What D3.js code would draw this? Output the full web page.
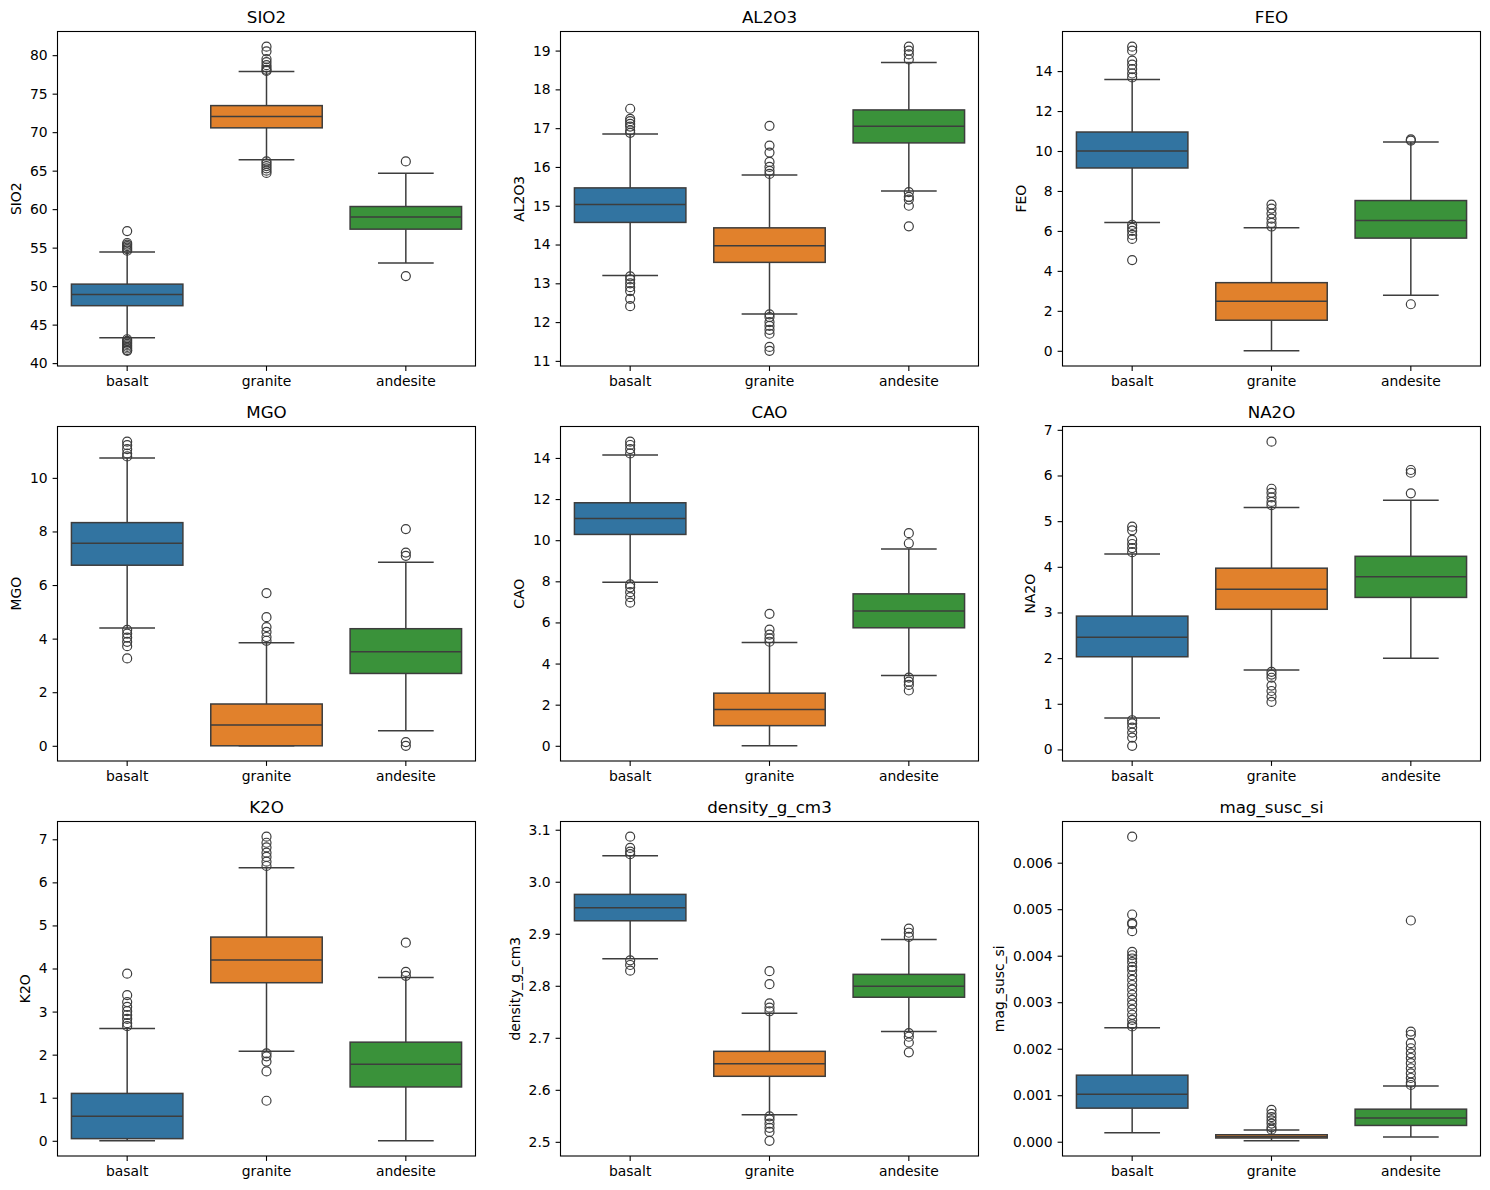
<!DOCTYPE html>
<html>
<head>
<meta charset="utf-8">
<script src="https://cdn.jsdelivr.net/npm/d3@7"></script>
<style>
  body { margin: 0; background: #ffffff; }
  svg { display: block; font-family: "DejaVu Sans", sans-serif; }
</style>
</head>
<body>
<svg id="chart" width="1490" height="1190"></svg>
<script>
const categories = ["basalt", "granite", "andesite"];
const colors = ["#3274a1", "#e1812c", "#3a923a"];

// box stats per category: [whisker low, q1, median, q3, whisker high]
const sio2Box = [[43.3, 47.46, 48.92, 50.26, 54.44], [66.4, 70.56, 72.03, 73.45, 77.89], [53.0, 57.4, 58.97, 60.34, 64.65]];
const sio2Out = [
  [57.15, 55.6, 55.4, 55.2, 55.0, 54.8, 54.6, 43.1, 42.9, 42.7, 42.5, 42.3, 42.1, 41.9, 41.7, 41.6],
  [81.1, 80.5, 79.5, 79.1, 78.7, 78.4, 78.1, 77.95, 66.2, 65.9, 65.6, 65.3, 65.0, 64.7],
  [66.2, 51.3]
];
const sio2Ticks = [40, 45, 50, 55, 60, 65, 70, 75, 80];

const al2o3Box = [[13.2, 14.57, 15.03, 15.46, 16.85], [12.21, 13.54, 13.97, 14.43, 15.79], [15.38, 16.62, 17.05, 17.47, 18.69]];
const al2o3Out = [
  [17.5, 17.24, 17.18, 17.11, 17.04, 16.94, 16.88, 13.18, 13.1, 13.0, 12.9, 12.8, 12.6, 12.41],
  [17.06, 16.55, 16.37, 16.13, 16.0, 15.9, 15.82, 12.2, 12.13, 12.0, 11.9, 11.8, 11.7, 11.36, 11.26],
  [19.1, 19.0, 18.9, 18.77, 15.35, 15.23, 15.16, 15.0, 14.47]
];
const al2o3Ticks = [11, 12, 13, 14, 15, 16, 17, 18, 19];

const feoBox = [[6.42, 9.15, 10.0, 10.95, 13.58], [0, 1.53, 2.48, 3.41, 6.16], [2.78, 5.64, 6.52, 7.52, 10.45]];
const feoOut = [
  [15.22, 15.02, 14.52, 14.32, 14.1, 13.88, 13.68, 6.3, 6.15, 6.0, 5.8, 5.6, 4.54],
  [7.32, 7.12, 6.87, 6.62, 6.4, 6.22],
  [10.58, 10.52, 2.33]
];
const feoTicks = [0, 2, 4, 6, 8, 10, 12, 14];

const mgoBox = [[4.4, 6.74, 7.56, 8.33, 10.74], [0, 0, 0.78, 1.56, 3.85], [0.56, 2.7, 3.51, 4.37, 6.85]];
const mgoOut = [
  [11.35, 11.22, 11.07, 10.91, 10.8, 4.33, 4.19, 4.04, 3.88, 3.72, 3.26],
  [5.7, 4.8, 4.43, 4.25, 4.06, 3.92],
  [8.09, 7.21, 7.09, 0.14, 0.0]
];
const mgoTicks = [0, 2, 4, 6, 8, 10];

const caoBox = [[7.95, 10.28, 11.05, 11.82, 14.14], [0, 0.98, 1.77, 2.56, 5.02], [3.42, 5.74, 6.56, 7.39, 9.57]];
const caoOut = [
  [14.79, 14.63, 14.43, 14.22, 7.85, 7.71, 7.47, 7.23, 6.96],
  [6.42, 5.65, 5.41, 5.22, 5.06],
  [10.34, 9.85, 3.32, 3.12, 2.96, 2.69]
];
const caoTicks = [0, 2, 4, 6, 8, 10, 12, 14];

const na2oBox = [[0.69, 2.03, 2.46, 2.92, 4.28], [1.74, 3.07, 3.51, 3.97, 5.3], [2.0, 3.33, 3.78, 4.23, 5.46]];
const na2oOut = [
  [4.88, 4.8, 4.59, 4.5, 4.41, 4.32, 0.64, 0.57, 0.48, 0.37, 0.26, 0.08],
  [6.74, 5.71, 5.62, 5.52, 5.42, 5.35, 1.7, 1.64, 1.57, 1.4, 1.28, 1.16, 1.04],
  [6.12, 6.06, 5.61]
];
const na2oTicks = [0, 1, 2, 3, 4, 5, 6, 7];

const k2oBox = [[0, 0.05, 0.57, 1.1, 2.61], [2.08, 3.67, 4.2, 4.73, 6.34], [0, 1.25, 1.78, 2.29, 3.79]];
const k2oOut = [
  [3.88, 3.38, 3.22, 3.11, 3.01, 2.92, 2.83, 2.73, 2.66],
  [7.06, 6.92, 6.81, 6.69, 6.59, 6.48, 6.38, 2.03, 1.96, 1.84, 1.61, 0.93],
  [4.6, 3.92, 3.83]
];
const k2oTicks = [0, 1, 2, 3, 4, 5, 6, 7];

const densityBox = [[2.852, 2.925, 2.950, 2.9757, 3.0502], [2.552, 2.626, 2.650, 2.674, 2.747], [2.712, 2.778, 2.799, 2.822, 2.889]];
const densityOut = [
  [3.0866, 3.065, 3.058, 3.053, 2.849, 2.84, 2.829],
  [2.828, 2.803, 2.766, 2.758, 2.751, 2.549, 2.543, 2.535, 2.527, 2.519, 2.502],
  [2.910, 2.902, 2.894, 2.709, 2.702, 2.691, 2.672]
];
const densityTicks = [2.5, 2.6, 2.7, 2.8, 2.9, 3.0, 3.1];

const magBox = [[0.000193, 0.000722, 0.001023, 0.001431, 0.002453], [0.00002, 0.00008, 0.000107, 0.00015, 0.00025], [0.0001, 0.00035, 0.000508, 0.0007, 0.0012]];
const magOut = [
  [0.006559, 0.004886, 0.004707, 0.00468, 0.004528, 0.004084, 0.00401, 0.00394, 0.00386, 0.00376, 0.00369,
   0.00358, 0.00348, 0.00337, 0.00327, 0.00316, 0.00305, 0.00295, 0.00284, 0.00273, 0.00262, 0.00253, 0.00248],
  [0.000687, 0.0006, 0.00053, 0.00046, 0.00039, 0.00031, 0.00026],
  [0.004757, 0.002368, 0.0023, 0.00212, 0.00201, 0.0019, 0.0018, 0.00169, 0.00158, 0.00147, 0.00137, 0.00127, 0.00122]
];
const magTicks = [0, 0.001, 0.002, 0.003, 0.004, 0.005, 0.006];

const panels = [
  { title: "SIO2", box: sio2Box, out: sio2Out, ticks: sio2Ticks, fmt: d3.format("d") },
  { title: "AL2O3", box: al2o3Box, out: al2o3Out, ticks: al2o3Ticks, fmt: d3.format("d") },
  { title: "FEO", box: feoBox, out: feoOut, ticks: feoTicks, fmt: d3.format("d") },
  { title: "MGO", box: mgoBox, out: mgoOut, ticks: mgoTicks, fmt: d3.format("d") },
  { title: "CAO", box: caoBox, out: caoOut, ticks: caoTicks, fmt: d3.format("d") },
  { title: "NA2O", box: na2oBox, out: na2oOut, ticks: na2oTicks, fmt: d3.format("d") },
  { title: "K2O", box: k2oBox, out: k2oOut, ticks: k2oTicks, fmt: d3.format("d") },
  { title: "density_g_cm3", box: densityBox, out: densityOut, ticks: densityTicks, fmt: d3.format(".1f") },
  { title: "mag_susc_si", box: magBox, out: magOut, ticks: magTicks, fmt: d3.format(".3f") }
];

const colLeft = [57.5, 560.5, 1062.5];
const colRight = [475.5, 978.5, 1480.5];
const rowTop = [31.5, 426.5, 821.5];
const rowBottom = [366, 761, 1156];

const lineColor = "#3d3d3d";
const tickLen = 4.9, tickPad = 4.9, fontSize = 13.9;

const svg = d3.select("#chart");

panels.forEach((p, i) => {
  const col = i % 3, row = Math.floor(i / 3);
  const left = colLeft[col], right = colRight[col];
  const top = rowTop[row], bottom = rowBottom[row];

  const all = p.box.flat().concat(p.out.flat());
  const [mn, mx] = d3.extent(all);
  const pad = (mx - mn) * 0.05;

  const x = d3.scaleBand().domain(categories).range([left, right]).paddingInner(0).paddingOuter(0);
  const y = d3.scaleLinear().domain([mn - pad, mx + pad]).range([bottom, top]);

  const g = svg.append("g");

  // boxes
  const bw = x.bandwidth() * 0.8;
  categories.forEach((c, k) => {
    const [wlo, q1, med, q3, whi] = p.box[k];
    const cx = x(c) + x.bandwidth() / 2;
    const bg = g.append("g").attr("stroke", lineColor).attr("stroke-width", 1.5);
    bg.append("line").attr("x1", cx).attr("x2", cx).attr("y1", y(q3)).attr("y2", y(whi));
    bg.append("line").attr("x1", cx).attr("x2", cx).attr("y1", y(q1)).attr("y2", y(wlo));
    bg.append("line").attr("x1", cx - bw / 4).attr("x2", cx + bw / 4).attr("y1", y(whi)).attr("y2", y(whi));
    bg.append("line").attr("x1", cx - bw / 4).attr("x2", cx + bw / 4).attr("y1", y(wlo)).attr("y2", y(wlo));
    bg.append("rect").attr("x", cx - bw / 2).attr("width", bw)
      .attr("y", y(q3)).attr("height", Math.max(y(q1) - y(q3), 0.5))
      .attr("fill", colors[k]);
    bg.append("line").attr("x1", cx - bw / 2).attr("x2", cx + bw / 2).attr("y1", y(med)).attr("y2", y(med));
    bg.selectAll("circle").data(p.out[k]).enter().append("circle")
      .attr("cx", cx).attr("cy", d => y(d)).attr("r", 4.5)
      .attr("fill", "none").attr("stroke-width", 1.2);
  });

  // axes
  const xa = g.append("g").attr("transform", `translate(0,${bottom})`)
    .call(d3.axisBottom(x).tickSizeInner(tickLen).tickSizeOuter(0).tickPadding(tickPad));
  const ya = g.append("g").attr("transform", `translate(${left},0)`)
    .call(d3.axisLeft(y).tickValues(p.ticks).tickFormat(p.fmt).tickSizeInner(tickLen).tickSizeOuter(0).tickPadding(tickPad));
  [xa, ya].forEach(a => {
    a.select(".domain").remove();
    a.selectAll("line").attr("stroke", "#000").attr("stroke-width", 1.1);
    a.selectAll("text").attr("fill", "#000").style("font-size", fontSize + "px").style("font-family", "DejaVu Sans");
  });

  // frame
  g.append("rect").attr("x", left).attr("y", top).attr("width", right - left).attr("height", bottom - top)
    .attr("fill", "none").attr("stroke", "#000").attr("stroke-width", 1.1);

  // y label, placed outside the widest tick label
  let maxW = 0;
  ya.selectAll("text").each(function () { maxW = Math.max(maxW, this.getBBox().width); });
  const lx = left - tickLen - tickPad - maxW - 5.6 - 3.3;
  g.append("text").attr("transform", `translate(${lx},${(top + bottom) / 2}) rotate(-90)`)
    .attr("text-anchor", "middle").style("font-size", fontSize + "px").attr("fill", "#000")
    .text(p.title);

  // title
  g.append("text").attr("x", (left + right) / 2).attr("y", top - 9)
    .attr("text-anchor", "middle").style("font-size", "16.7px").attr("fill", "#000")
    .text(p.title);
});
</script>
</body>
</html>
